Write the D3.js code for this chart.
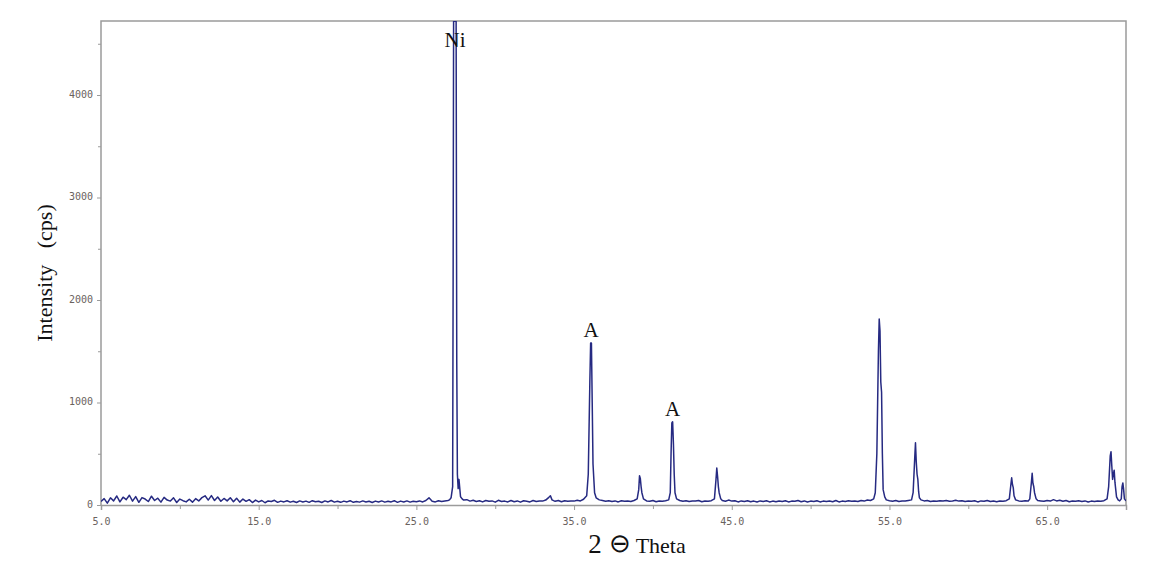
<!DOCTYPE html>
<html><head><meta charset="utf-8">
<script src="https://cdn.jsdelivr.net/npm/d3@7"></script>
<style>body{margin:0;background:#fff}svg{display:block}</style>
</head><body>
<svg id="c" width="1155" height="561"></svg>
<script>
// 2θ (deg) and intensity (cps)
const twoTheta = [5.0,5.2,5.4,5.6,5.8,6.0,6.2,6.4,6.6,6.8,7.0,7.2,7.4,7.6,7.8,8.0,8.2,8.4,8.6,8.8,9.0,9.2,9.4,9.6,9.8,10.0,10.2,10.4,10.6,10.8,11.0,11.2,11.4,11.6,11.8,12.0,12.2,12.4,12.6,12.8,13.0,
13.2,13.4,13.6,13.8,14.0,14.2,14.4,14.6,14.8,15.0,15.2,15.4,15.6,15.8,16.0,16.2,16.4,16.6,16.8,17.0,17.2,17.4,17.6,17.8,18.0,18.2,18.4,18.6,18.8,19.0,19.2,19.4,19.6,19.8,20.0,20.2,20.4,20.6,20.8,21.0,21.2,21.4,21.6,21.8,22.0,22.2,22.4,22.6,22.8,23.0,23.2,23.4,23.6,23.8,24.0,24.2,24.4,24.6,24.8,25.0,25.2,25.4,25.6,25.8,26.0,26.2,26.4,26.6,26.8,27.0,27.1,27.2,27.3,27.33,27.36,27.52,27.56,27.6,27.65,27.7,27.8,27.9,28.0,28.2,28.4,28.6,28.8,29.0,29.2,29.4,29.6,29.8,30.0,30.2,30.4,30.6,30.8,31.0,31.2,31.4,31.6,31.8,32.0,32.2,32.4,32.6,32.8,33.0,33.2,33.4,33.5,33.6,33.8,34.0,34.2,34.4,34.6,34.8,35.0,35.2,35.4,35.6,35.8,35.9,36.0,36.05,36.1,36.15,36.2,36.3,36.4,36.6,36.8,37.0,37.2,37.4,37.6,37.8,38.0,38.2,38.4,38.6,38.8,39.0,39.1,39.15,39.2,39.25,39.3,39.4,39.6,39.8,40.0,40.2,40.4,40.6,40.8,41.0,41.1,41.15,41.2,41.25,41.3,41.35,41.4,41.5,41.7,41.9,42.1,42.3,42.5,42.7,42.9,43.1,43.3,43.5,43.7,43.9,44.0,44.05,44.1,44.15,44.2,44.3,44.4,44.6,44.8,45.0,45.2,45.4,45.6,45.8,46.0,46.2,46.4,46.6,46.8,47.0,47.2,47.4,47.6,47.8,48.0,48.2,48.4,48.6,48.8,49.0,49.2,49.4,49.6,49.8,50.0,50.2,50.4,50.6,50.8,51.0,51.2,51.4,51.6,51.8,52.0,52.2,52.4,52.6,52.8,53.0,53.2,53.4,53.6,53.8,54.0,54.1,54.2,54.3,54.35,54.4,54.45,54.5,54.55,54.6,54.7,54.8,55.0,55.2,55.4,55.6,55.8,56.0,56.2,56.4,56.5,56.6,56.65,56.7,56.75,56.8,56.85,56.9,57.0,57.2,57.4,57.6,57.8,58.0,58.2,58.4,58.6,58.8,59.0,59.2,59.4,59.6,59.8,60.0,60.2,60.4,60.6,60.8,61.0,61.2,61.4,61.6,61.8,62.0,62.2,62.4,62.6,62.7,62.75,62.8,62.85,62.9,63.0,63.2,63.4,63.6,63.8,63.9,64.0,64.05,64.1,64.15,64.2,64.3,64.4,64.6,64.8,65.0,65.2,65.4,65.6,65.8,66.0,66.2,66.4,66.6,66.8,67.0,67.2,67.4,67.6,67.8,68.0,68.2,68.4,68.6,68.8,68.9,69.0,69.05,69.1,69.15,69.2,69.25,69.3,69.4,69.5,69.6,69.7,69.75,69.8,69.85,69.9,70.0];
const intensity = [35,62,18,70,40,88,30,76,52,95,38,82,26,72,58,34,86,44,66,28,74,48,38,70,24,58,42,30,56,28,62,40,72,90,48,92,44,78,36,64,40,
70,32,66,28,58,36,52,24,48,30,44,22,40,34,46,26,38,30,42,28,36,24,40,30,38,26,42,32,36,24,40,30,44,28,36,26,38,30,42,26,34,28,40,30,36,24,38,30,40,28,36,30,42,26,38,30,40,28,36,32,40,30,44,70,36,30,42,34,40,44,50,70,180,2200,4720,4720,1400,300,160,250,80,60,48,52,38,46,34,42,30,44,36,40,28,46,34,38,30,44,32,40,28,42,36,30,44,34,40,38,48,75,90,50,36,44,32,42,36,40,38,46,40,56,90,300,1200,1580,1580,1000,400,120,70,50,44,36,42,34,40,30,42,36,40,34,44,60,150,285,260,180,120,60,40,36,44,32,40,36,42,50,120,500,800,812,600,300,120,60,44,36,42,34,40,38,44,32,40,36,42,60,250,360,280,180,120,60,44,36,48,38,42,30,40,34,42,32,38,30,40,34,42,30,38,32,40,34,42,30,38,36,44,32,40,30,38,34,42,30,38,34,40,32,44,30,38,34,42,36,40,34,44,38,48,44,60,120,500,1500,1815,1700,1200,1100,500,150,80,50,42,36,44,34,40,38,44,50,120,450,608,420,300,250,130,70,50,40,44,34,40,36,42,38,44,36,40,46,38,42,34,40,36,42,30,40,36,44,34,40,32,38,36,42,60,200,266,200,170,90,50,40,36,42,38,60,220,309,210,180,120,60,44,40,36,44,38,52,40,46,36,44,32,40,36,42,34,40,30,38,34,40,36,42,60,180,480,520,380,250,300,340,220,80,50,40,60,180,215,150,60,40];

const xTicks = [5,15,25,35,45,55,65];
const xMinor = [10,20,30,40,50,60,70];
const yTicks = [0,1000,2000,3000,4000];
const yMinor = [500,1500,2500,3500,4500];
const peakLabels = [{t:"Ni",x:27.45,y:4720},{t:"A",x:36.08,y:1580},{t:"A",x:41.25,y:812}];

const m={l:101,r:1126,t:21,b:505};
const svg=d3.select("#c");
const x=d3.scaleLinear().domain([5,70]).range([m.l,m.r]);
const y=d3.scaleLinear().domain([0,4722]).range([m.b,m.t]);

svg.append("defs").append("clipPath").attr("id","clip")
  .append("rect").attr("x",m.l).attr("y",m.t).attr("width",m.r-m.l).attr("height",m.b-m.t);

const frame="#9b9b9b";
svg.append("path").attr("d",`M${m.l},${m.b}V${m.t}H${m.r}V${m.b}`).attr("fill","none").attr("stroke",frame).attr("stroke-width",1.5);

const yAx=svg.append("g").attr("transform",`translate(${m.l},0)`)
  .call(d3.axisLeft(y).tickValues(yTicks).tickSize(4).tickFormat(d3.format("d")));
yAx.select(".domain").remove();
yAx.selectAll("line").attr("stroke",frame);
yAx.selectAll("text").attr("font-family","DejaVu Sans Mono").attr("font-size",10).attr("fill","#6a625e").attr("x",-8).attr("dy","0.2em");
svg.append("g").attr("transform",`translate(${m.l},0)`)
  .call(d3.axisLeft(y).tickValues(yMinor).tickSize(3).tickFormat(""))
  .call(g=>{g.select(".domain").remove();g.selectAll("line").attr("stroke",frame);});

const line=d3.line().x((d,i)=>x(twoTheta[i])).y(d=>y(d));
svg.append("path").datum(intensity).attr("clip-path","url(#clip)")
  .attr("d",line).attr("fill","none").attr("stroke","#262a82").attr("stroke-width",1.5).attr("stroke-linejoin","round");

const xAx=svg.append("g").attr("transform",`translate(0,${m.b})`)
  .call(d3.axisBottom(x).tickValues(xTicks).tickSize(5).tickFormat(d3.format(".1f")));
xAx.select(".domain").attr("stroke",frame).attr("stroke-width",1.5);
xAx.selectAll("line").attr("stroke",frame);
xAx.selectAll("text").attr("font-family","DejaVu Sans Mono").attr("font-size",10).attr("fill","#6a625e").attr("y",13);
svg.append("g").attr("transform",`translate(0,${m.b})`)
  .call(d3.axisBottom(x).tickValues(xMinor).tickSize(4).tickFormat(""))
  .call(g=>{g.select(".domain").remove();g.selectAll("line").attr("stroke",frame);});

svg.selectAll("text.pk").data(peakLabels).join("text").attr("class","pk")
  .attr("x",d=>x(d.x)).attr("y",d=>d.t==="Ni"?47:y(d.y)-6)
  .attr("text-anchor","middle").attr("font-family","Liberation Serif").attr("font-size",21).attr("fill","#111")
  .text(d=>d.t);

svg.append("text").attr("transform","translate(52,273) rotate(-90)").attr("text-anchor","middle")
  .attr("font-family","Liberation Serif").attr("font-size",22).attr("fill","#111")
  .attr("xml:space","preserve").text("Intensity\u2002 (cps)");
const xt=svg.append("text").attr("x",637).attr("y",553).attr("text-anchor","middle")
  .attr("font-family","Liberation Serif").attr("font-size",22).attr("fill","#111").attr("xml:space","preserve");
xt.append("tspan").attr("font-size",27).text("2 ");
xt.append("tspan").attr("font-family","DejaVu Sans").attr("font-weight",200).attr("font-size",26).attr("dy",-1).text("\u2296");
xt.append("tspan").attr("dy",1).text(" Theta");
</script>
</body></html>
